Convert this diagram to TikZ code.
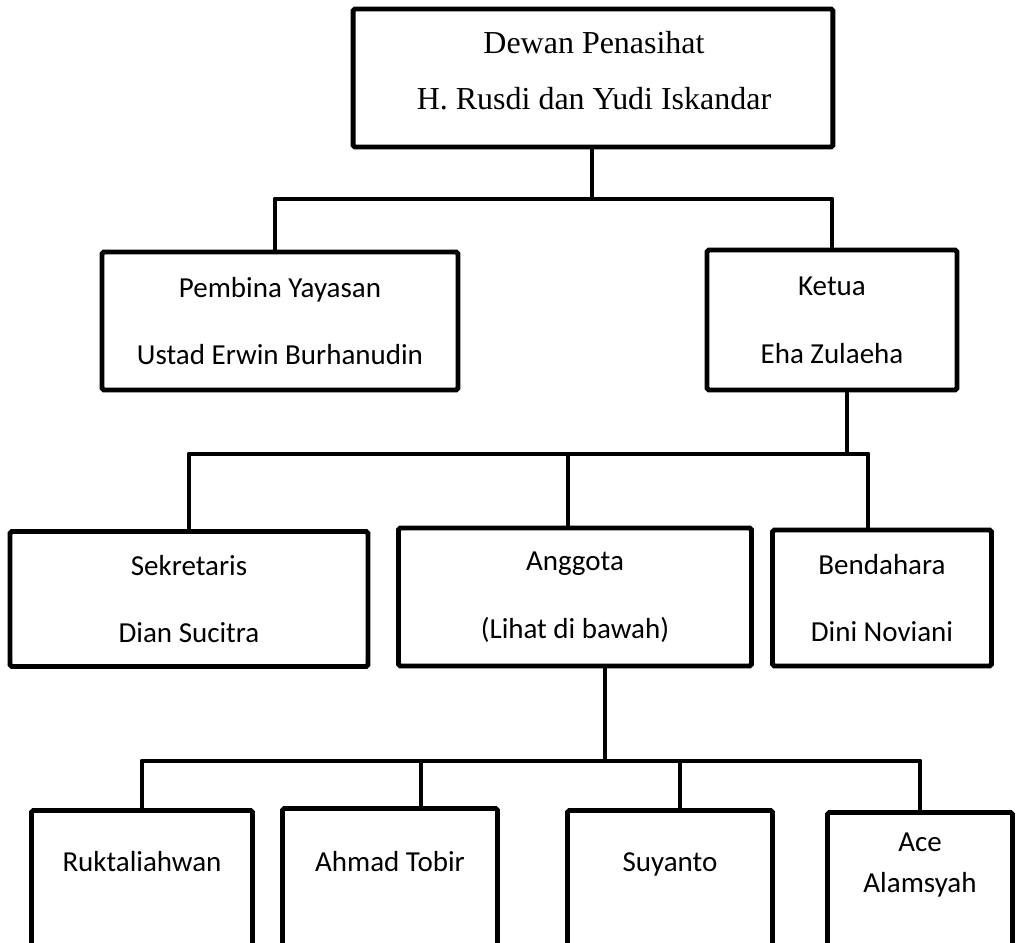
\documentclass[tikz,border=0pt]{standalone}
\usepackage{fontspec}
\setmainfont{Liberation Serif}
\newfontfamily\carlito{Carlito}
\usetikzlibrary{positioning,calc}

\begin{document}
\begin{tikzpicture}[x=0.02cm,y=-0.02cm]
\tikzstyle{every node}+=[inner sep=0pt]
\tikzstyle{kotak}=[draw, line width=2.8pt, rounded corners=1pt, align=center]
\tikzstyle{garis}=[line width=2.8pt, line join=round]
\tikzstyle{isi}=[font=\carlito\fontsize{16.5}{38.5}\selectfont]
\clip (0,0) rectangle (1032,943);
\node [kotak, minimum width=9.6cm, minimum height=2.76cm] (dewan) at (593,78) {};
\node [align=center, font=\fontsize{18.2}{32}\selectfont] (dewanTeks) at (594,71) {Dewan Penasihat\\H. Rusdi dan Yudi Iskandar};
\node [kotak, isi, minimum width=7.12cm, minimum height=2.76cm] (pembina) at (280,321) {Pembina Yayasan\\Ustad Erwin Burhanudin};
\node [kotak, isi, minimum width=5cm, minimum height=2.8cm] (ketua) at (832,320) {Ketua\\Eha Zulaeha};
\node [kotak, isi, minimum width=7.16cm, minimum height=2.7cm] (sekretaris) at (189,599) {Sekretaris\\Dian Sucitra};
\node [kotak, isi, minimum width=7.06cm, minimum height=2.76cm] (anggota) at (575,597) {Anggota\\(Lihat di bawah)};
\node [kotak, isi, minimum width=4.38cm, minimum height=2.72cm] (bendahara) at (882,598) {Bendahara\\Dini Noviani};
\node [kotak, minimum width=4.42cm, minimum height=4cm, anchor=north] (rukt) at (142,808) {};
\node [kotak, minimum width=4.3cm, minimum height=4cm, anchor=north] (ahmad) at (390,806) {};
\node [kotak, minimum width=4.1cm, minimum height=4cm, anchor=north] (suyanto) at (670,808) {};
\node [kotak, minimum width=3.7cm, minimum height=4cm, anchor=north] (ace) at (920,810) {};
\node [isi] (ruktTeks) at ($(rukt.north)+(0,54)$) {Ruktaliahwan};
\node [isi] (ahmadTeks) at ($(ahmad.north)+(0,56)$) {Ahmad Tobir};
\node [isi] (suyantoTeks) at ($(suyanto.north)+(0,56)$) {Suyanto};
\node [isi, align=center, font=\carlito\fontsize{16.5}{23}\selectfont] (aceTeks) at ($(ace.north)+(0,55)$) {Ace\\Alamsyah};
\coordinate (c1) at (592,199);
\coordinate (c2) at (847,454);
\coordinate (c3) at (605,761);
\coordinate (sP) at (275,199);
\coordinate (sA) at (568,454);
\coordinate (sB) at (868,454);
\coordinate (sT) at (421,761);
\coordinate (sS) at (680,761);
\draw [garis] (dewan.south -| c1) -- (c1);
\draw [garis] (sP |- pembina.north) |- (c1) -| (ketua.north);
\draw [garis] (c2 |- ketua.south) -- (c2);
\draw [garis] (sekretaris.north) |- (c2) -| (sB |- bendahara.north);
\draw [garis] (sA) -- (sA |- anggota.north);
\draw [garis] (c3 |- anggota.south) -- (c3);
\draw [garis] (rukt.north) |- (c3) -| (ace.north);
\draw [garis] (sT) -- (sT |- ahmad.north);
\draw [garis] (sS) -- (sS |- suyanto.north);
\end{tikzpicture}
\end{document}
